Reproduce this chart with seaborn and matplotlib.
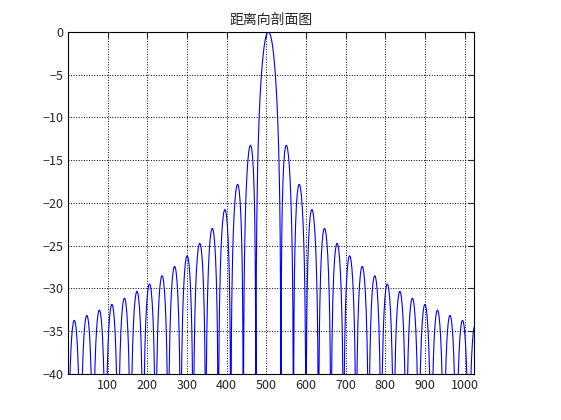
import numpy as np
import seaborn as sns
import matplotlib.pyplot as plt

sns.set_style("white")
plt.rcParams['font.family'] = ['Noto Sans CJK SC', 'DejaVu Sans']

# values: sample range, peak position and lobe width
n_samples = 1024
peak_pos = 505.3
lobe_width = 31.6
floor_db = -40
x_ticks = [100, 200, 300, 400, 500, 600, 700, 800, 900, 1000]
y_ticks = [-40, -35, -30, -25, -20, -15, -10, -5, 0]

n = np.arange(1, n_samples + 1)
amp = np.abs(np.sinc((n - peak_pos) / lobe_width))
db = 20 * np.log10(np.maximum(amp, 1e-6))

fig = plt.figure(figsize=(5.61, 4.2), dpi=100)
ax = fig.add_axes([0.122, 0.11, 0.723, 0.814])
sns.lineplot(x=n, y=db, ax=ax, color='#0000ff', linewidth=0.8)
ax.set_xlim(1, n_samples)
ax.set_ylim(floor_db, 0)
ax.set_xticks(x_ticks)
ax.set_yticks(y_ticks)
ax.grid(True, linestyle=':', color='black', linewidth=0.7)
ax.tick_params(direction='in', labelsize=9, length=4, top=True, right=True)
for s in ax.spines.values():
    s.set_color('black')
    s.set_linewidth(0.8)
ax.set_title('距离向剖面图', fontsize=10)
fig.savefig('out.png', dpi=100)
